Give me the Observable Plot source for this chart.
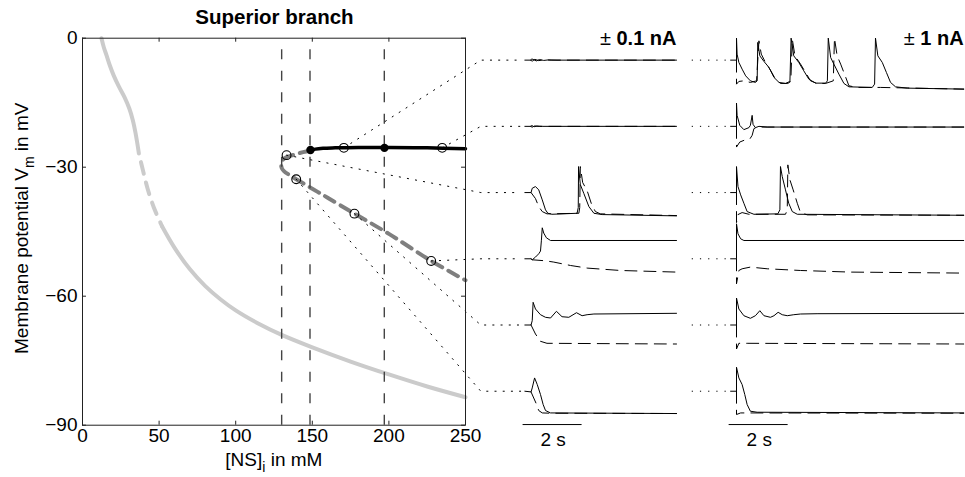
<!DOCTYPE html>
<html><head><meta charset="utf-8">
<script src="https://cdn.jsdelivr.net/npm/d3@7"></script>
<script src="https://cdn.jsdelivr.net/npm/@observablehq/plot@0.6"></script>
<style>body{margin:0;background:#fff}</style>
</head><body><div id="chart"></div>
<script>
// ---------- bifurcation diagram data ([NS]i in mM, Vm in mV) ----------
const xTicks = [0, 50, 100, 150, 200, 250];
const yTicks = [0, -30, -60, -90];
const foldLines = [130, 148.5, 197];
const restUpper = [[12.4,0],[13.9,-2.1],[15.7,-4.0],[17.8,-6.3],[20.4,-8.7],[23.7,-11.2],[27.4,-13.7],[30.5,-16.3],[32.8,-19],[34.6,-22],[35.8,-24.5],[36.8,-26.8]];
const restUnstable = [[36.8,-26.8],[39.5,-30.8],[42.5,-35],[46.5,-39.3],[52,-43.8]];
const restLower = [[52,-43.8],[60,-48.7],[70,-53.7],[80,-57.6],[90,-60.7],[100,-63.3],[115,-66.4],[130,-69.0],[150,-71.9],[175,-75.2],[200,-78.2],[225,-81.0],[250,-83.5]];
const depolStable = [[148.8,-26.1],[152,-25.8],[157,-25.6],[165,-25.5],[180,-25.4],[200,-25.4],[225,-25.5],[250,-25.7]];
const depolUnstable = [[148.8,-26.1],[144,-26.5],[138,-27.1],[133,-27.7],[130.5,-28.4],[129.7,-29.4],[130.2,-30.3],[131.5,-30.9],[135,-31.8],[139.5,-32.8],[150,-35],[160,-37.1],[177.5,-40.8],[200,-45.5],[227.6,-51.8],[250,-56.3]];
const probedPoints = [[170.6,-25.5],[234.8,-25.5],[133.2,-27.2],[227.6,-51.8],[177.5,-40.8],[139.5,-32.8]]; // rows 1..6
const bifurcationPoints = [[148.8,-26.0],[197.1,-25.5]];

// ---------- voltage traces: [time in s, deflection in a.u.] ----------
const lowRow1Up = [[-0.19,0],[0,0],[0.05,1.2],[0.12,0.3],[0.2,-0.8],[0.3,0.6],[0.45,-0.3],[0.6,0.2],[0.9,0],[4.95,0]];
const lowRow1Down = [[0,0],[0.06,-1],[0.15,0.8],[0.28,-0.5],[0.45,0.3],[0.7,0],[4.95,0]];
const lowRow2Up = [[-0.19,0],[0,0],[0.05,0.8],[0.12,-0.4],[0.22,0.2],[0.4,0],[4.95,0]];
const lowRow2Down = [[0,0],[0.06,-0.8],[0.14,0.4],[0.3,0],[4.95,0]];
const lowRow3Up = [[-0.19,0],[0.02,0],[0.06,4.3],[0.17,6],[0.28,2.7],[0.4,-7.3],[0.51,-17.3],[0.59,-20.7],[0.73,-21.7],[1.58,-20.7],[1.62,-15],[1.63,26],[1.69,8],[1.81,-1],[1.98,-14],[2.15,-20.7],[2.43,-22],[4.95,-23.3]];
const lowRow3Down = [[0.02,0],[0.17,-6],[0.28,-14],[0.4,-19],[0.56,-21.3],[1.64,-20.7],[1.67,-15],[1.69,26],[1.77,10],[1.92,2],[2.06,-10.7],[2.2,-19],[2.37,-21.3],[4.95,-23]];
const lowRow4Up = [[-0.19,0],[0.02,0],[0.06,-1],[0.17,1.7],[0.28,5],[0.34,7.7],[0.37,18],[0.4,31],[0.45,25.7],[0.54,21],[0.68,18.3],[4.95,18.3]];
const lowRow4Down = [[0.02,0],[0.06,-1],[0.5,-2],[0.79,-3.3],[1.36,-6.7],[1.92,-9.3],[3.05,-11.7],[4.95,-13.3]];
const lowRow5Up = [[-0.19,0],[0.02,0],[0.06,4.3],[0.09,22.7],[0.17,16],[0.34,10.3],[0.51,7.7],[0.68,7],[0.88,13.7],[1.07,8.3],[1.3,7.7],[1.56,12.3],[1.75,9.3],[1.92,10.3],[2.15,11],[4.95,11.7]];
const lowRow5Down = [[0.02,0],[0.17,-9],[0.34,-16.3],[0.56,-18.3],[4.95,-19]];
const lowRow6Up = [[-0.19,0],[0.02,-0.7],[0.06,3.3],[0.14,13.3],[0.23,6.7],[0.34,-3.3],[0.43,-13.3],[0.51,-19.3],[0.68,-21.7],[4.95,-22.3]];
const lowRow6Down = [[0.02,-0.7],[0.2,-12.7],[0.28,-19.3],[0.4,-21.7],[0.68,-22],[4.95,-22.3]];

const highRow1Up = [[-0.2,0],[0,0],[0,22],[0.02,6],[0.08,-2.3],[0.19,-9],[0.31,-15.7],[0.47,-20.7],[0.64,-22.3],[0.7,-20.7],[0.72,17.7],[0.79,4.3],[0.93,-1.3],[1.1,-7.3],[1.27,-17.3],[1.44,-22.3],[1.66,-23.3],[1.81,-21.3],[1.85,22],[1.94,4.3],[2.11,-2.3],[2.28,-10.7],[2.45,-19],[2.68,-23],[3.02,-23],[3.08,-20.7],[3.11,22],[3.19,2.7],[3.3,-4],[3.47,-14],[3.64,-23.3],[3.81,-26.7],[4.6,-27.3],[4.68,-24],[4.71,22],[4.79,4.3],[4.94,-2.3],[5.08,-12.3],[5.22,-22.3],[5.39,-26.7],[5.79,-28],[7.7,-29]];
const highRow1Down = [[0,0],[0,-24],[0.08,-21.3],[0.25,-20.7],[0.47,-22.3],[0.68,-20.7],[0.76,19.3],[0.84,6],[0.98,-2.3],[1.15,-10],[1.32,-19],[1.49,-23.3],[1.74,-23.3],[1.84,-21.3],[1.89,21],[1.98,4.3],[2.17,-4],[2.34,-12.3],[2.51,-20.7],[2.73,-23.3],[3.02,-23.3],[3.28,-20.7],[3.32,22],[3.41,4.3],[3.53,-4],[3.66,-14],[3.81,-25.7],[4.09,-27.3],[4.88,-27.3],[7.7,-29]];
const highRow2Up = [[-0.2,0],[0,0],[0,23.3],[0.02,11],[0.11,1],[0.25,-3.3],[0.42,-1.3],[0.47,1],[0.53,11],[0.56,2],[0.64,-1.3],[0.76,0],[1.04,-0.7],[7.7,-0.7]];
const highRow2Down = [[0,0],[0,-20.7],[0.11,-15.7],[0.31,-13.3],[0.45,-12.7],[0.53,-9],[0.59,-2.3],[0.7,-0.7],[7.7,-0.7]];
const highRow3Up = [[-0.2,0],[0,0],[0,26],[0.05,6],[0.14,-2.3],[0.25,-10.7],[0.36,-19],[0.59,-21.7],[1.4,-21.3],[1.47,-17.3],[1.49,26],[1.55,16],[1.66,2.7],[1.77,-10.7],[1.89,-19],[2.06,-21.7],[7.7,-22.7]];
const highRow3Down = [[0,0],[0,-30],[0.05,-22],[0.19,-20],[0.42,-21.7],[1.66,-21.7],[1.72,-17.3],[1.74,27.7],[1.81,12.7],[1.92,2.7],[2.06,-10.7],[2.17,-20],[2.4,-22.3],[7.7,-22.7]];
const highRow4Up = [[-0.2,0],[0,0],[0,35],[0.05,25],[0.14,20],[0.25,18.3],[7.7,18.3]];
const highRow4Down = [[0,0],[0,-25],[0.08,-11.7],[0.19,-10],[0.47,-8.3],[1.04,-10],[2.17,-11.7],[3.86,-13.3],[7.7,-14.3]];
const highRow5Up = [[-0.2,0],[0,0],[0,27],[0.08,16],[0.25,9.3],[0.47,6.7],[0.64,9.3],[0.79,14.3],[0.93,9.3],[1.15,7.7],[1.27,9.3],[1.41,12.7],[1.55,10.3],[1.72,9.3],[1.94,10.3],[2.17,11],[2.73,11.3],[7.7,11.7]];
const highRow5Down = [[0,0],[0,-24],[0.08,-18.3],[0.36,-18.3],[7.7,-19]];
const highRow6Up = [[-0.2,0],[0,0],[0,24],[0.08,13.3],[0.19,6.7],[0.28,-3.3],[0.36,-13.3],[0.47,-20],[0.7,-21],[7.7,-21.7]];
const highRow6Down = [[0,0],[0,-23.3],[0.14,-21.7],[7.7,-22]];

// ---------- labels ----------
const titleText = "Superior branch";
const yLabelParts = ["Membrane potential V", "m", " in mV"];
const xLabelParts = ["[NS]", "i", " in mM"];
const headerParts = [["\u00b1", " 0.1 nA"], ["\u00b1", " 1 nA"]];
const scaleBarLabel = "2 s";

// ---------- layout of the inset traces (in the panel's coordinates) ----------
const colX = [292.4, 426.9];      // stimulus onset of each trace column
const secUnits = 19.26;           // x units per second
const rowY = [0,1,2,3,4,5].map(i => -5.1 - 15.4 * i);
const gain = 1 / 4.3;             // y units per trace unit
const traceEnd = [4.95, 7.7];

const traceSets = [
  [0,0,"up",lowRow1Up],[0,0,"down",lowRow1Down],[0,1,"up",lowRow2Up],[0,1,"down",lowRow2Down],
  [0,2,"up",lowRow3Up],[0,2,"down",lowRow3Down],[0,3,"up",lowRow4Up],[0,3,"down",lowRow4Down],
  [0,4,"up",lowRow5Up],[0,4,"down",lowRow5Down],[0,5,"up",lowRow6Up],[0,5,"down",lowRow6Down],
  [1,0,"up",highRow1Up],[1,0,"down",highRow1Down],[1,1,"up",highRow2Up],[1,1,"down",highRow2Down],
  [1,2,"up",highRow3Up],[1,2,"down",highRow3Down],[1,3,"up",highRow4Up],[1,3,"down",highRow4Down],
  [1,4,"up",highRow5Up],[1,4,"down",highRow5Down],[1,5,"up",highRow6Up],[1,5,"down",highRow6Down]
];
const traceRows = traceSets.flatMap(([c, r, s, pts]) =>
  pts.map(([t, v]) => ({id: c + "-" + r + "-" + s, sign: s, x: colX[c] + t * secUnits, y: rowY[r] + v * gain})));

const connectors = probedPoints.flatMap(([x, y], i) => [
  {id: i, x, y}, {id: i, x: 260, y: rowY[i]}, {id: i, x: 286, y: rowY[i]}]);

const pts = a => a.map(([x, y]) => ({x, y}));
const font = "Liberation Sans, Arial, Helvetica, sans-serif";

const chart = Plot.plot({
  width: 965, height: 477,
  marginLeft: 82, marginRight: 500, marginTop: 37.7, marginBottom: 52.3,
  x: {domain: [0, 250]},
  y: {domain: [-90, 0]},
  style: {fontFamily: font, fontSize: "19px", background: "#fff", color: "#000"},
  marks: [
    Plot.line(pts(restUpper), {x: "x", y: "y", stroke: "#cbcbcb", strokeWidth: 4, curve: "catmull-rom"}),
    Plot.line(pts(restUnstable), {x: "x", y: "y", stroke: "#cbcbcb", strokeWidth: 4, curve: "catmull-rom", strokeDasharray: "12,9", strokeDashoffset: 12}),
    Plot.line(pts(restLower), {x: "x", y: "y", stroke: "#cbcbcb", strokeWidth: 4, curve: "catmull-rom"}),
    Plot.line(pts(depolUnstable), {x: "x", y: "y", stroke: "#7f7f7f", strokeWidth: 4, curve: "catmull-rom", strokeDasharray: "11,7"}),
    Plot.line(pts(depolStable), {x: "x", y: "y", stroke: "#000", strokeWidth: 3.5, curve: "catmull-rom"}),
    Plot.ruleX(foldLines, {y1: -90, y2: 0, stroke: "#444", strokeWidth: 1.4, strokeDasharray: "10,11.5"}),
    Plot.line(connectors, {x: "x", y: "y", z: "id", stroke: "#000", strokeWidth: 1, strokeDasharray: "1.2,7"}),
    Plot.ruleY(rowY, {x1: 398, x2: 421, stroke: "#000", strokeWidth: 1, strokeDasharray: "1.2,7"}),
    Plot.dot(pts(probedPoints), {x: "x", y: "y", r: 4.4, stroke: "#000", fill: "none", strokeWidth: 1.1}),
    Plot.dot(pts(bifurcationPoints), {x: "x", y: "y", r: 4.2, fill: "#000"}),
    Plot.frame({stroke: "#222", strokeWidth: 1}),
    Plot.ruleY(yTicks, {x1: 0, x2: 2.6, stroke: "#222"}),
    Plot.ruleY(yTicks, {x1: 250, x2: 247.4, stroke: "#222"}),
    Plot.ruleX(xTicks, {y1: -90, y2: -89.07, stroke: "#222"}),
    Plot.ruleX(xTicks, {y1: 0, y2: -0.93, stroke: "#222"}),
    Plot.axisX(xTicks, {tickSize: 0, tickPadding: 3, fontSize: 19, label: null}),
    Plot.axisY(yTicks, {tickSize: 0, tickPadding: 5, fontSize: 19, label: null,
      tickFormat: d => d < 0 ? "\u2212" + Math.abs(d) : String(d)}),
    Plot.line(traceRows.filter(d => d.sign === "up"), {x: "x", y: "y", z: "id", stroke: "#000", strokeWidth: 1}),
    Plot.line(traceRows.filter(d => d.sign === "down"), {x: "x", y: "y", z: "id", stroke: "#000", strokeWidth: 1, strokeDasharray: "12,7"}),
    Plot.ruleY([0, 1], {y: () => -89.85, x1: c => colX[c] - 0.25 * secUnits, x2: c => colX[c] + 1.75 * secUnits, stroke: "#000", strokeWidth: 1}),
    Plot.text([0, 1], {x: c => colX[c] + 0.77 * secUnits, y: () => -93.4, text: () => scaleBarLabel, fontSize: 19}),
    Plot.text([0, 1], {x: c => colX[c] + traceEnd[c] * secUnits, y: () => -0.2, text: c => headerParts[c].join(""), textAnchor: "end", fontSize: 20, fontWeight: "bold"}),
    Plot.text([titleText], {x: 125.3, y: 4.9, text: d => d, fontSize: 20.5, fontWeight: "bold"}),
    Plot.text([xLabelParts.join("")], {x: 124.9, y: -98.1, text: d => d, fontSize: 19}),
    Plot.text([yLabelParts.join("")], {x: -39.5, y: -44.2, text: d => d, fontSize: 19, rotate: -90})
  ]
});

// rich text: subscripts and a non-bold ± sign
function rich(full, parts) {
  d3.select(chart).selectAll("text").filter(function() { return this.textContent === full; }).each(function() {
    const el = d3.select(this);
    el.text(null);
    parts.forEach(p => {
      const ts = el.append("tspan").text(p.text);
      if (p.sub) ts.attr("font-size", 14).attr("dy", 6);
      if (p.after) ts.attr("dy", -6);
      if (p.normal) ts.attr("font-weight", "normal");
    });
  });
}
rich(yLabelParts.join(""), [{text: yLabelParts[0]}, {text: yLabelParts[1], sub: true}, {text: yLabelParts[2], after: true}]);
rich(xLabelParts.join(""), [{text: xLabelParts[0]}, {text: xLabelParts[1], sub: true}, {text: xLabelParts[2], after: true}]);
headerParts.forEach(h => rich(h.join(""), [{text: h[0], normal: true}, {text: h[1]}]));

document.getElementById("chart").appendChild(chart);
</script>
</body></html>
